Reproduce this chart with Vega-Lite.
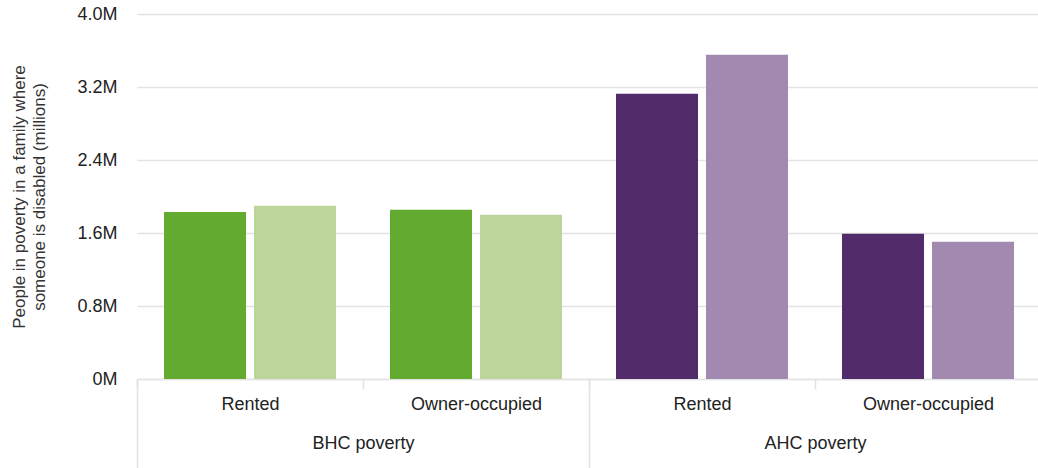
{
  "$schema": "https://vega.github.io/schema/vega-lite/v6.json",
  "autosize": "none",
  "width": 904,
  "height": 365,
  "padding": {"left": 137, "top": 14, "right": 0, "bottom": 89},
  "background": "white",
  "config": {
    "font": "Liberation Sans",
    "view": {"stroke": null},
    "axis": {"labelFont": "Liberation Sans", "titleFont": "Liberation Sans", "labelColor": "#222222", "titleColor": "#333333", "labelFontSize": 18, "titleFontSize": 17, "titleFontWeight": "normal"}
  },
  "data": {
    "values": [
      {"poverty": "BHC poverty", "tenure": "Rented", "key": "BHC poverty|Rented", "series": "Period 1", "bar": "BHC poverty Period 1", "value": 1.83},
      {"poverty": "BHC poverty", "tenure": "Rented", "key": "BHC poverty|Rented", "series": "Period 2", "bar": "BHC poverty Period 2", "value": 1.90},
      {"poverty": "BHC poverty", "tenure": "Owner-occupied", "key": "BHC poverty|Owner-occupied", "series": "Period 1", "bar": "BHC poverty Period 1", "value": 1.855},
      {"poverty": "BHC poverty", "tenure": "Owner-occupied", "key": "BHC poverty|Owner-occupied", "series": "Period 2", "bar": "BHC poverty Period 2", "value": 1.80},
      {"poverty": "AHC poverty", "tenure": "Rented", "key": "AHC poverty|Rented", "series": "Period 1", "bar": "AHC poverty Period 1", "value": 3.127},
      {"poverty": "AHC poverty", "tenure": "Rented", "key": "AHC poverty|Rented", "series": "Period 2", "bar": "AHC poverty Period 2", "value": 3.554},
      {"poverty": "AHC poverty", "tenure": "Owner-occupied", "key": "AHC poverty|Owner-occupied", "series": "Period 1", "bar": "AHC poverty Period 1", "value": 1.592},
      {"poverty": "AHC poverty", "tenure": "Owner-occupied", "key": "AHC poverty|Owner-occupied", "series": "Period 2", "bar": "AHC poverty Period 2", "value": 1.504}
    ]
  },
  "layer": [
    {
      "mark": {"type": "bar", "opacity": 0},
      "encoding": {
        "x": {
          "field": "poverty", "type": "nominal",
          "sort": ["BHC poverty", "AHC poverty"],
          "scale": {"paddingInner": 0, "paddingOuter": 0},
          "axis": {
            "orient": "bottom", "title": null, "domain": false,
            "ticks": true, "tickBand": "extent", "tickSize": 95, "tickColor": "#e3e3e3", "tickWidth": 1.5,
            "labelAngle": 0, "labelPadding": -40, "labelBaseline": "top"
          }
        },
        "y": {"field": "value", "type": "quantitative", "scale": {"domain": [0, 4]}}
      }
    },
    {
      "mark": {"type": "bar"},
      "encoding": {
        "x": {
          "field": "key", "type": "nominal",
          "sort": ["BHC poverty|Rented", "BHC poverty|Owner-occupied", "AHC poverty|Rented", "AHC poverty|Owner-occupied"],
          "scale": {"paddingInner": 0, "paddingOuter": 0},
          "axis": {
            "orient": "bottom", "title": null,
            "labelExpr": "split(datum.label, '|')[1]",
            "domain": true, "domainColor": "#e3e3e3", "domainWidth": 1.5,
            "ticks": true, "tickBand": "extent", "tickSize": 10, "tickColor": "#e3e3e3", "tickWidth": 1.5,
            "labelAngle": 0, "labelPadding": 6, "labelBaseline": "top"
          }
        },
        "xOffset": {
          "field": "series", "type": "nominal",
          "sort": ["Period 1", "Period 2"],
          "scale": {"paddingInner": 0.0889, "paddingOuter": 0.3}
        },
        "y": {
          "field": "value", "type": "quantitative",
          "scale": {"domain": [0, 4]},
          "axis": {
            "title": ["People in poverty in a family where", "someone is disabled (millions)"],
            "titleLineHeight": 20,
            "titlePadding": 28,
            "values": [0, 0.8, 1.6, 2.4, 3.2, 4.0],
            "labelExpr": "datum.value == 0 ? '0M' : format(datum.value, '.1f') + 'M'",
            "domain": false, "ticks": false, "labelPadding": 20,
            "grid": true, "gridColor": "#e3e3e3", "gridWidth": 1.5
          }
        },
        "color": {
          "field": "bar", "type": "nominal",
          "scale": {
            "domain": ["BHC poverty Period 1", "BHC poverty Period 2", "AHC poverty Period 1", "AHC poverty Period 2"],
            "range": ["#63aa31", "#bdd59b", "#522b6b", "#a189b0"]
          },
          "legend": null
        }
      }
    }
  ],
  "resolve": {"scale": {"x": "independent"}, "axis": {"x": "independent"}}
}
